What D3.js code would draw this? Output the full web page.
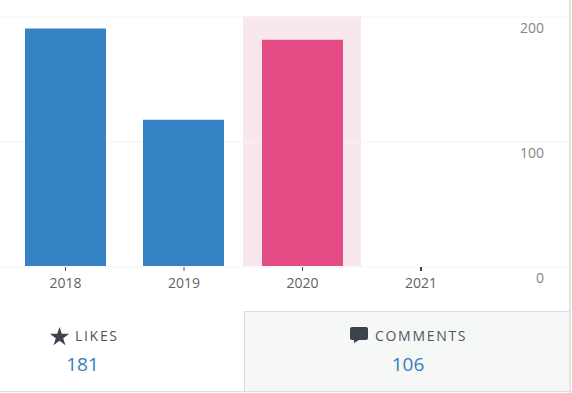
<!DOCTYPE html>
<html lang="en">
<head>
<meta charset="UTF-8">
<title>Likes by year</title>
<script src="https://d3js.org/d3.v7.min.js"></script>
<style>
    html, body { margin: 0; padding: 0; background: #fff; }
    svg { display: block; font-family: "Open Sans", sans-serif; }
</style>
</head>
<body>
<svg width="572" height="393"></svg>
<script>
    const years = ["2018", "2019", "2020", "2021"];
    const values = [190, 117, 181, 0];
    const yTicks = [0, 100, 200];
    const highlightYear = "2020";
    const statLabels = ["LIKES", "COMMENTS"];
    const statValues = [181, 106];

    const svg = d3.select("svg");

    const x = d3.scaleBand().domain(years).range([6.25, 480.25]).paddingInner(0).paddingOuter(0);
    const y = d3.scaleLinear().domain([0, 200]).range([266.5, 16.5]);
    const barWidth = 81;

    // highlighted year column
    svg.append("rect")
        .attr("x", Math.floor(x(highlightYear)))
        .attr("y", 16)
        .attr("width", Math.floor(x.bandwidth()))
        .attr("height", 250)
        .attr("fill", "#f8e8ee");

    // grid lines + right labels
    const yAxis = svg.append("g")
        .attr("transform", "translate(544,0)")
        .call(d3.axisLeft(y).tickValues(yTicks).tickSize(0).tickPadding(0));
    yAxis.select(".domain").remove();
    yAxis.selectAll("text")
        .attr("dy", 16)
        .attr("fill", "#82868b")
        .style("font-size", "14px")
        .style("font-family", "'Open Sans', sans-serif");
    yAxis.selectAll(".tick").append("line")
        .attr("x1", -544).attr("x2", 25)
        .attr("stroke", "#f4f4f5");

    // bars
    svg.selectAll(".bar")
        .data(years)
        .enter().append("rect")
        .attr("class", "bar")
        .attr("x", d => Math.floor(x(d) + (x.bandwidth() - barWidth) / 2))
        .attr("y", (d, i) => y(values[i]) - 0.5)
        .attr("width", barWidth)
        .attr("height", (d, i) => y(0) - y(values[i]))
        .attr("fill", d => d === highlightYear ? "#e54c85" : "#3582c4");

    // x axis
    const xAxis = svg.append("g")
        .attr("transform", "translate(0,267)")
        .call(d3.axisBottom(x).tickSize(4).tickPadding(7));
    xAxis.select(".domain").remove();
    xAxis.selectAll("line").attr("stroke", "#50575e");
    xAxis.selectAll(".tick").filter(d => d === "2021").select("line").attr("stroke-width", 2).attr("stroke", "#3c434a");
    xAxis.selectAll("text")
        .attr("fill", "#5c6369")
        .style("font-size", "14px")
        .style("font-family", "'Open Sans', sans-serif");

    // stats panels
    svg.append("rect")
        .attr("x", 244.5).attr("y", 311.5)
        .attr("width", 325).attr("height", 80)
        .attr("fill", "#f6f7f7")
        .attr("stroke", "#dcdcde");
    svg.append("line").attr("x1", 0).attr("x2", 572).attr("y1", 391.5).attr("y2", 391.5).attr("stroke", "#dcdcde");
    svg.append("rect").attr("x", 569).attr("y", 0).attr("width", 2).attr("height", 393).attr("fill", "#e4e4e6");

    const labelX = [75, 375];
    const valueX = [82.5, 408];
    svg.selectAll(".stat-label")
        .data(statLabels)
        .enter().append("text")
        .attr("class", "stat-label")
        .attr("x", (d, i) => labelX[i])
        .attr("y", 341)
        .attr("fill", "#50575e")
        .attr("font-size", 14)
        .attr("letter-spacing", 1.7)
        .text(d => d);
    svg.selectAll(".stat-value")
        .data(statValues)
        .enter().append("text")
        .attr("class", "stat-value")
        .attr("x", (d, i) => valueX[i])
        .attr("y", 371)
        .attr("text-anchor", "middle")
        .attr("fill", "#3a7db8")
        .attr("font-size", 19)
        .text(d => d);

    // icons
    svg.append("path")
        .attr("d", d3.symbol().type(d3.symbolStar).size(115))
        .attr("transform", "translate(59.5,337)")
        .attr("fill", "#3c434a");
    svg.append("path")
        .attr("d", "M352 327H366Q368 327 368 329V338Q368 340 366 340H359L354 343V340H352Q350 340 350 338V329Q350 327 352 327Z")
        .attr("fill", "#3c434a");
</script>
</body>
</html>
